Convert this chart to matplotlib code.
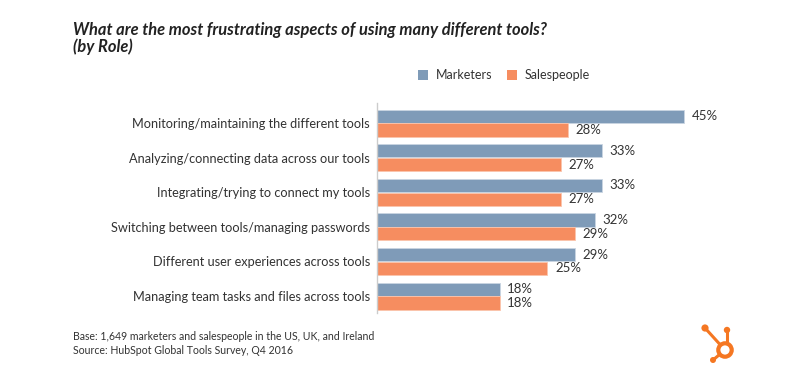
import matplotlib
matplotlib.use("Agg")
import matplotlib.pyplot as plt
from matplotlib.patches import Rectangle, Ellipse
from matplotlib.lines import Line2D

categories = [
    "Monitoring/maintaining the different tools",
    "Analyzing/connecting data across our tools",
    "Integrating/trying to connect my tools",
    "Switching between tools/managing passwords",
    "Different user experiences across tools",
    "Managing team tasks and files across tools",
]
marketers = [45, 33, 33, 32, 29, 18]
salespeople = [28, 27, 27, 29, 25, 18]
series_names = ["Marketers", "Salespeople"]

C_M = "#7f9bb8"
C_S = "#f68d60"
TXT = "#333333"
FONT = "Lato"

fig = plt.figure(figsize=(8.10, 3.88), dpi=100)
fig.patch.set_facecolor("white")
ax = fig.add_axes([377/810, 1-313/388, (731.6-377)/810, (313-103)/388])

y = list(range(len(categories)))
h = 0.38
off = 0.2
ax.barh([i - off for i in y], marketers, height=h, color=C_M, edgecolor="#c9d5e2", linewidth=0.6)
ax.barh([i + off for i in y], salespeople, height=h, color=C_S, edgecolor="#fbc4ac", linewidth=0.6)

for i, (m, s) in enumerate(zip(marketers, salespeople)):
    ax.text(m + 1.1, i - off, f"{m}%", va="center", ha="left", fontsize=9.5, color=TXT, family=FONT)
    ax.text(s + 1.1, i + off, f"{s}%", va="center", ha="left", fontsize=9.5, color=TXT, family=FONT)

ax.set_xlim(0, 52)
ax.set_ylim(5.49, -0.58)
ax.set_yticks(y)
ax.set_yticklabels(categories, fontsize=9.2, color=TXT, family=FONT)
ax.tick_params(axis="y", length=0, pad=5)
ax.set_xticks([])
for sp in ["top", "right", "bottom"]:
    ax.spines[sp].set_visible(False)
ax.spines["left"].set_color("#cccccc")
ax.spines["left"].set_linewidth(1.0)

# Title
fig.text(73/810, 1-30/388, "What are the most frustrating aspects of using many different tools?",
         fontsize=11.9, fontweight="bold", style="italic", color="#222222", family=FONT, va="center")
fig.text(73/810, 1-47/388, "(by Role)",
         fontsize=11.9, fontweight="bold", style="italic", color="#222222", family=FONT, va="center")

# Legend
for x0, col, name in [(418, C_M, series_names[0]), (507, C_S, series_names[1])]:
    fig.patches.append(Rectangle((x0/810, 1-80/388), 10/810, 10/388, transform=fig.transFigure,
                                 facecolor=col, edgecolor="none"))
    fig.text((x0+18)/810, 1-75/388, name, fontsize=9, color=TXT, family=FONT, va="center")

# Footnote
fig.text(73/810, 1-337/388, "Base: 1,649 marketers and salespeople in the US, UK, and Ireland",
         fontsize=7.6, color=TXT, family=FONT, va="center")
fig.text(73/810, 1-350/388, "Source: HubSpot Global Tools Survey, Q4 2016",
         fontsize=7.6, color=TXT, family=FONT, va="center")

# HubSpot sprocket logo
LOGO = "#f57722"
def fx(px): return px/810
def fy(py): return 1-py/388
cx, cy = 725, 350
lines = [((cx, cy), (705, 328)), ((727, cy), (727, 331)), ((cx, cy), (713, 360))]
for (a, b) in lines:
    fig.add_artist(Line2D([fx(a[0]), fx(b[0])], [fy(a[1]), fy(b[1])], transform=fig.transFigure,
                          color=LOGO, linewidth=2.2, solid_capstyle="round", zorder=5))
def dot(x, yv, r, fc, z):
    fig.add_artist(Ellipse((fx(x), fy(yv)), 2*r/810, 2*r/388, transform=fig.transFigure,
                           facecolor=fc, edgecolor="none", zorder=z))
dot(705, 328, 3.6, LOGO, 6)
dot(727, 330, 3.2, LOGO, 6)
dot(713, 360, 3.0, LOGO, 6)
dot(cx, cy, 8.8, LOGO, 6)
dot(cx, cy, 4.6, "white", 7)

fig.savefig("out.png", dpi=100, facecolor="white")
